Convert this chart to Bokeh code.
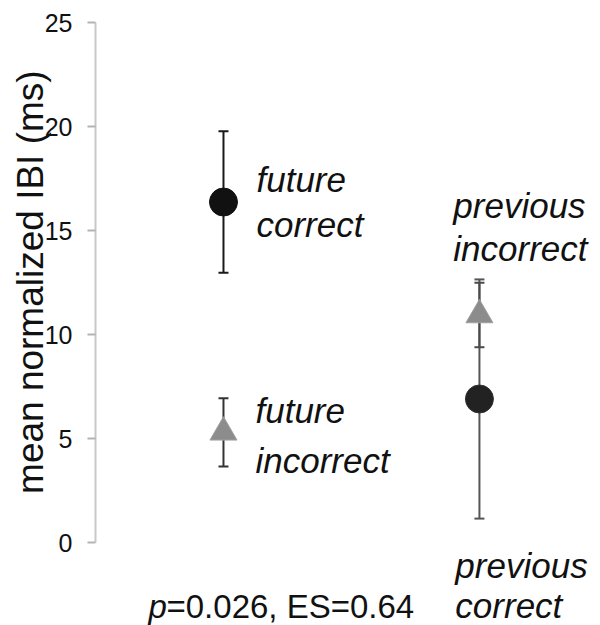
from bokeh.plotting import figure
from bokeh.models import Range1d, FixedTicker, Whisker, ColumnDataSource, TeeHead
from bokeh.embed import file_html
from bokeh.resources import INLINE
from bokeh.core.properties import value

# ---- data ----
conditions = ["future correct", "future incorrect", "previous correct", "previous incorrect"]
group_x = [1.0, 1.0, 2.0, 2.0]
means = [16.37, 5.30, 6.90, 10.94]
errors = [3.40, 1.64, 5.75, 1.55]
markers = ["circle", "triangle", "circle", "triangle"]
y_ticks = [0, 5, 10, 15, 20, 25]
y_label = "mean normalized IBI (ms)"
stat_p = "p"
stat_rest = "=0.026, ES=0.64"

# condition labels (two lines each), anchored in data space
label_lines = ["future", "correct", "future", "incorrect",
               "previous", "incorrect", "previous", "correct"]
label_x = [1.129, 1.129, 1.125, 1.125, 1.898, 1.898, 1.906, 1.906]
label_y = [17.45, 15.29, 6.35, 3.94, 16.20, 14.13, -1.11, -3.03]

FONT = "Liberation Sans"
NBSP = "\u00a0"

p = figure(width=600, height=625,
           x_range=Range1d(0.5, 2.473), y_range=Range1d(-3.99, 26.06),
           x_axis_type=None,
           output_backend="svg", toolbar_location=None,
           min_border_left=95, min_border_right=0,
           min_border_top=0, min_border_bottom=0)
p.outline_line_color = None
p.ygrid.visible = False
p.background_fill_color = "white"

ax = p.yaxis[0]
ax.ticker = FixedTicker(ticks=y_ticks)
ax.bounds = (0, 25)
ax.axis_line_color = "#c8c8c8"
ax.axis_line_width = 2
ax.major_tick_line_color = "#b4b4b4"
ax.major_tick_line_width = 2
ax.major_tick_in = 0
ax.major_tick_out = 8
ax.minor_tick_line_color = None
ax.major_label_text_font = FONT
ax.major_label_text_font_size = "25px"
ax.major_label_text_color = "#111111"
ax.major_label_standoff = 15
# leading no-break spaces centre the visible title on the 0-25 span
ax.axis_label = NBSP * 6 + y_label
ax.axis_label_text_font = FONT
ax.axis_label_text_font_size = "37px"
ax.axis_label_text_font_style = "normal"
ax.axis_label_text_color = "#111111"
ax.axis_label_standoff = -9

upper = [m + e for m, e in zip(means, errors)]
lower = [m - e for m, e in zip(means, errors)]
fill_colors = ["#111111", "#8c8c8c", "#222222", "#8c8c8c"]
line_colors = ["#111111", "#a0a0a0", "#333333", "#a0a0a0"]
bar_colors = ["#1a1a1a", "#333333", "#555555", "#4a4a4a"]

order = [2, 0, 1, 3]
for i in order:
    s = ColumnDataSource(dict(x=[group_x[i]], upper=[upper[i]], lower=[lower[i]]))
    w = Whisker(source=s, base="x", upper="upper", lower="lower",
                dimension="height", line_color=bar_colors[i], line_width=2,
                upper_head=TeeHead(size=10, line_color=bar_colors[i], line_width=2),
                lower_head=TeeHead(size=10, line_color=bar_colors[i], line_width=2))
    w.level = "underlay"
    p.add_layout(w)

for i in order:
    s = ColumnDataSource(dict(x=[group_x[i]], y=[means[i]]))
    if markers[i] == "circle":
        p.scatter("x", "y", source=s, marker="circle", size=28,
                  fill_color=fill_colors[i], line_color=line_colors[i], line_width=1)
    else:
        p.scatter("x", "y", source=s, marker="triangle", size=27,
                  fill_color=fill_colors[i], line_color=line_colors[i], line_width=1)

lab_src = ColumnDataSource(dict(x=label_x, y=label_y, text=label_lines))
p.text("x", "y", text="text", source=lab_src,
       text_font=value(FONT), text_font_style="italic",
       text_font_size="35px", text_color="#111111",
       text_align="left", text_baseline="alphabetic")

stat_src = ColumnDataSource(dict(x=[0.707], y=[-3.07], t=[stat_p], r=[stat_rest]))
p.text("x", "y", text="t", source=stat_src,
       text_font=value(FONT), text_font_style="italic",
       text_font_size="33px", text_color="#111111",
       text_align="left", text_baseline="alphabetic")
p.text("x", "y", text="r", source=stat_src, x_offset=18,
       text_font=value(FONT), text_font_style="normal",
       text_font_size="33px", text_color="#111111",
       text_align="left", text_baseline="alphabetic")

open("out.html", "w").write(file_html(p, INLINE))
